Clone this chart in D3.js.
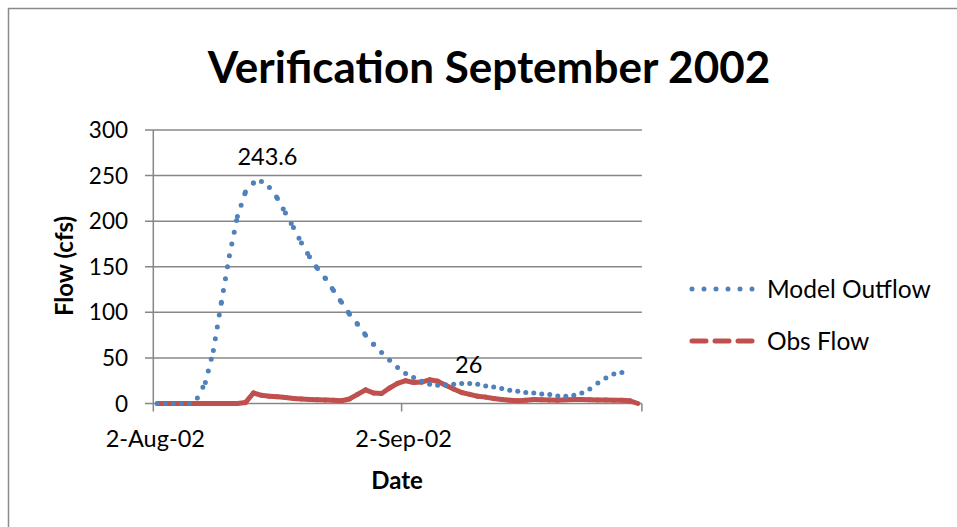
<!DOCTYPE html>
<html lang="en">
<head>
<meta charset="UTF-8" />
<title>Verification September 2002</title>
<script src="https://cdn.jsdelivr.net/npm/d3@7"></script>
<style>
  body { margin: 0; background: #fff; }
  svg { display: block; font-family: Lato, "Open Sans", sans-serif; }
</style>
</head>
<body>
<svg id="chart" width="957" height="527"></svg>
<script>
// daily values, first day 2-Aug-02
const startDate = new Date(2002, 7, 2);
const modelOutflow = [
  0, 0, 0, 0, 0, 6, 23, 58, 111, 162,
  205, 232, 242, 243.6, 237, 225, 209, 193, 176, 161,
  148, 137, 124, 111, 98, 87, 75, 65, 56, 47.5,
  39.5, 33, 28.5, 24.5, 21, 20, 20.5, 21, 22, 22,
  21, 19.3, 18, 16.4, 14.6, 13.5, 12, 11.6, 10.5, 9.9,
  8.3, 8, 9, 11.6, 16, 22.6, 28, 32.4, 34, 34
];
const obsFlow = [
  0, 0, 0, 0, 0, 0, 0, 0, 0, 0,
  0, 1, 11.5, 9, 8, 7.5, 6.5, 5.5, 5, 4.5,
  4, 3.8, 3.5, 3, 5, 10, 15, 11.5, 11, 17,
  22, 25, 23, 23.5, 26, 24.5, 20, 16, 12, 10,
  8, 7, 5.5, 4.5, 3.5, 3, 3.5, 4.5, 4, 3.8,
  3.5, 4, 4.5, 4.5, 4, 3.8, 3.8, 3.7, 3.5, 3,
  0
];
const yTicks = [0, 50, 100, 150, 200, 250, 300];
const xTickDates = [new Date(2002, 7, 2), new Date(2002, 8, 2), new Date(2002, 9, 2)];
const xTickLabels = ["2-Aug-02", "2-Sep-02", ""];
const seriesNames = ["Model Outflow", "Obs Flow"];

const blue = "#4F81BD";
const red = "#C0504D";
const gridColor = "#878787";

const svg = d3.select("#chart");

// chart border (only left/top edges are inside the picture)
svg.append("rect")
  .attr("x", 8.5).attr("y", 8.5)
  .attr("width", 1200).attr("height", 1200)
  .attr("fill", "none")
  .attr("stroke", "#8a8a8a")
  .attr("stroke-width", 1.5);

const x = d3.scaleTime()
  .domain([xTickDates[0], xTickDates[2]])
  .range([153.3, 641.9]);
const y = d3.scaleLinear().domain([0, 300]).range([403.5, 130]);

// points sit in the middle of each day
const dayX = (i) => x(d3.timeHour.offset(d3.timeDay.offset(startDate, i), 12));

// gridlines
svg.append("g")
  .selectAll("line")
  .data(yTicks)
  .join("line")
  .attr("x1", 145).attr("x2", 641.9)
  .attr("y1", (d) => y(d)).attr("y2", (d) => y(d))
  .attr("stroke", gridColor)
  .attr("stroke-width", 1.5);

// y axis line
svg.append("line")
  .attr("x1", x.range()[0]).attr("x2", x.range()[0])
  .attr("y1", y(300)).attr("y2", y(0))
  .attr("stroke", gridColor).attr("stroke-width", 1.5);

// x tick marks
svg.append("g")
  .selectAll("line")
  .data(xTickDates)
  .join("line")
  .attr("x1", (d) => x(d)).attr("x2", (d) => x(d))
  .attr("y1", y(0)).attr("y2", y(0) + 8)
  .attr("stroke", gridColor).attr("stroke-width", 1.5);

// y tick labels
svg.append("g")
  .selectAll("text")
  .data(yTicks)
  .join("text")
  .attr("x", 128)
  .attr("y", (d) => y(d) + 8)
  .attr("text-anchor", "end")
  .style("font-size", "22.5px")
  .text((d) => d);

// x tick labels
svg.append("g")
  .selectAll("text")
  .data(xTickDates)
  .join("text")
  .attr("x", (d) => x(d) + 2)
  .attr("y", 447)
  .attr("text-anchor", "middle")
  .style("font-size", "23.5px")
  .text((d, i) => xTickLabels[i]);

// axis titles
svg.append("text")
  .attr("x", 397).attr("y", 489)
  .attr("text-anchor", "middle")
  .style("font-size", "24px").style("font-weight", "bold")
  .text("Date");

svg.append("text")
  .attr("transform", "translate(73,266) rotate(-90)")
  .attr("text-anchor", "middle")
  .style("font-size", "24px").style("font-weight", "bold")
  .text("Flow (cfs)");

// title
svg.append("text")
  .attr("x", 489).attr("y", 83)
  .attr("text-anchor", "middle")
  .style("font-size", "44px").style("font-weight", "bold")
  .text("Verification September 2002");

// each segment gets its own dash pattern, like the original
function drawSeries(values, color, dash) {
  const segs = d3.pairs(values.map((v, i) => [dayX(i), y(v)]));
  svg.append("g")
    .selectAll("line")
    .data(segs)
    .join("line")
    .attr("x1", (d) => d[0][0]).attr("y1", (d) => d[0][1])
    .attr("x2", (d) => d[1][0]).attr("y2", (d) => d[1][1])
    .attr("stroke", color)
    .attr("stroke-width", 5)
    .attr("stroke-linecap", "round")
    .attr("stroke-dasharray", dash);
}
drawSeries(obsFlow, red, "14 9");
drawSeries(modelOutflow, blue, "0 12");

// data labels
const peakModel = d3.maxIndex(modelOutflow);
svg.append("text")
  .attr("x", dayX(peakModel) + 6)
  .attr("y", y(modelOutflow[peakModel]) - 16)
  .attr("text-anchor", "middle")
  .style("font-size", "23.5px")
  .text(modelOutflow[peakModel]);

const peakObs = d3.maxIndex(obsFlow);
svg.append("text")
  .attr("x", dayX(peakObs) + 39)
  .attr("y", y(obsFlow[peakObs]) - 7)
  .attr("text-anchor", "middle")
  .style("font-size", "23.5px")
  .text(obsFlow[peakObs]);

// legend
const legend = svg.append("g").attr("transform", "translate(692,0)");
const legendRows = [
  { name: seriesNames[0], color: blue, dash: "0 12", y: 289 },
  { name: seriesNames[1], color: red, dash: "14 9", y: 341 }
];
legendRows.forEach((r) => {
  legend.append("line")
    .attr("x1", 0).attr("x2", r.dash === "0 12" ? 61 : 60)
    .attr("y1", r.y).attr("y2", r.y)
    .attr("stroke", r.color)
    .attr("stroke-width", 5)
    .attr("stroke-linecap", "round")
    .attr("stroke-dasharray", r.dash);
  legend.append("text")
    .attr("x", 75).attr("y", r.y + 9)
    .style("font-size", "24.5px")
    .text(r.name);
});
</script>
</body>
</html>
